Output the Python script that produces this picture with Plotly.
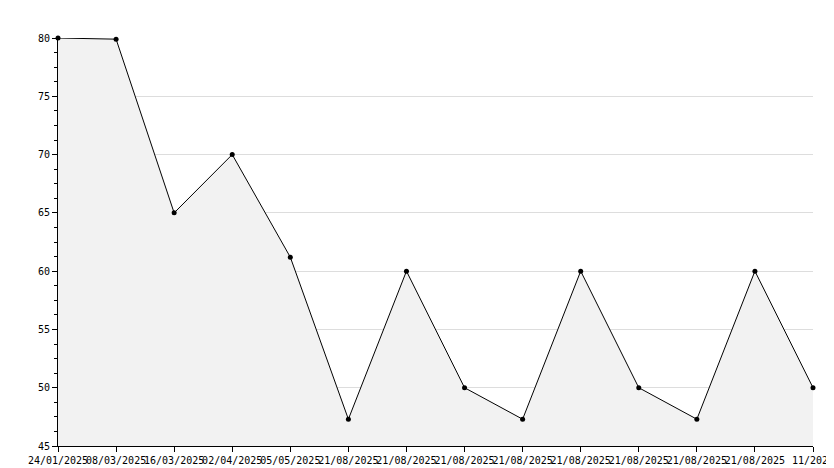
import plotly.graph_objects as go

dates = ["24/01/2025", "08/03/2025", "16/03/2025", "02/04/2025", "05/05/2025",
         "21/08/2025", "21/08/2025", "21/08/2025", "21/08/2025", "21/08/2025",
         "21/08/2025", "21/08/2025", "21/08/2025", "11/2025"]
values = [80, 79.9, 65, 70, 61.2, 47.3, 60, 50, 47.3, 60, 50, 47.3, 60, 50]
idx = list(range(len(values)))

fig = go.Figure(go.Scatter(
    x=idx, y=values, mode="lines+markers",
    line=dict(color="black", width=1),
    marker=dict(color="black", size=5, symbol="circle"),
    fill="tozeroy", fillcolor="#f2f2f2", cliponaxis=False,
))

fig.update_layout(
    width=834, height=468,
    margin=dict(l=50, r=29, t=30, b=30),
    plot_bgcolor="white", paper_bgcolor="white",
    showlegend=False,
    font=dict(family="DejaVu Sans Mono", size=10, color="black"),
)
fig.update_xaxes(
    range=[0, len(values) - 1], tickvals=idx, ticktext=dates,
    tickangle=0, automargin=False,
    ticks="outside", ticklen=5, tickcolor="black",
    showline=True, linecolor="black", showgrid=False, zeroline=False,
)
fig.update_yaxes(
    range=[45, 80], dtick=5, ticks="outside", ticklen=5, tickcolor="black",
    automargin=False,
    minor=dict(ticks="outside", ticklen=3, dtick=1.25, tickcolor="black", showgrid=False),
    showline=True, linecolor="black", gridcolor="#dddddd", zeroline=False,
)

fig.write_html("out.html")
